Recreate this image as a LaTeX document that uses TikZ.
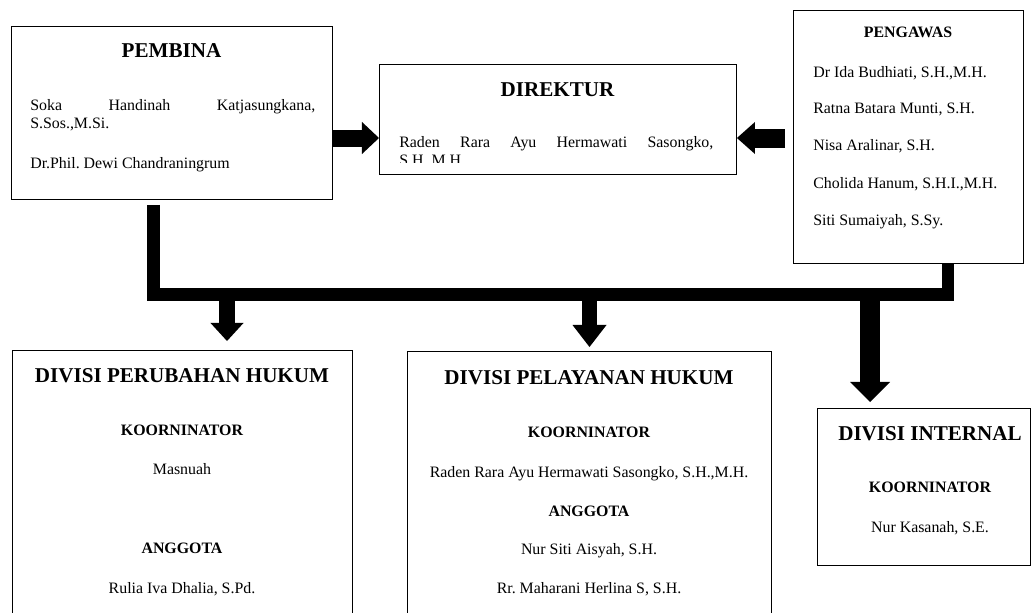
\documentclass[tikz,border=0pt]{standalone}
\usepackage{fontspec}
\setmainfont{Liberation Serif}
\usetikzlibrary{arrows.meta}
\frenchspacing

\begin{document}
\begin{tikzpicture}[x=0.025cm, y=-0.025cm,
    box/.style={rectangle, draw, line width=0.6pt, anchor=north west,
                inner sep=0pt},
    boxtitle/.style={font=\fontsize{15}{18}\selectfont\bfseries,
                     anchor=base, inner sep=0pt},
    rolehead/.style={font=\fontsize{11.3}{13}\selectfont\bfseries,
                     anchor=base, inner sep=0pt},
    person/.style={font=\fontsize{11.3}{12.8}\selectfont,
                   anchor=base, inner sep=0pt},
    fat/.style n args={3}{line width=#1,
                 -{Triangle[length=#2, width=#3, line width=0pt]}},
    bus/.style={line width=0.31cm, line join=miter}]
    \clip (0,0) rectangle (1033,612);

    % Pembina

    \node (pembina) [box, minimum width=8.025cm, minimum height=4.325cm]
          at (11,26) {};
    \node (pembinatitle) [boxtitle] at (171.5,57) {PEMBINA};
    \node (pembina1) [person, anchor=base west, text width=7.125cm,
                      align=justify]
          at (30,110) {Soka Handinah Katjasungkana,\linebreak S.Sos.,M.Si.};
    \node (pembina2) [person, anchor=base west] at (30,168)
          {Dr.Phil. Dewi Chandraningrum};

    % Direktur

    \node (direktur) [box, minimum width=8.925cm, minimum height=2.75cm]
          at (379,64) {};
    \node (direkturtitle) [boxtitle] at (557.5,96) {DIREKTUR};
    \begin{scope}
      \clip (380,65) rectangle (735,162);
      \node (direktur1) [person, anchor=base west, text width=7.85cm,
                         align=justify]
            at (399,147) {Raden Rara Ayu Hermawati Sasongko,\linebreak S.H.,M.H.};
    \end{scope}

    % Pengawas

    \node (pengawas) [box, minimum width=5.75cm, minimum height=6.325cm]
          at (793,10) {};
    \node (pengawastitle) [rolehead] at (908,37) {PENGAWAS};
    \node (pengawas1) [person, anchor=base west] at (813,77)
          {Dr Ida Budhiati, S.H.,M.H.};
    \node (pengawas2) [person, anchor=base west] at (813,113)
          {Ratna Batara Munti, S.H.};
    \node (pengawas3) [person, anchor=base west] at (813,150)
          {Nisa Aralinar, S.H.};
    \node (pengawas4) [person, anchor=base west] at (813,188)
          {Cholida Hanum, S.H.I.,M.H.};
    \node (pengawas5) [person, anchor=base west] at (813,225)
          {Siti Sumaiyah, S.Sy.};

    \coordinate (lvl) at (0,138);
    \draw[fat={0.425cm}{0.425cm}{0.8cm}]
         (pembina.east |- lvl) -- (direktur.west |- lvl);
    \draw[fat={0.475cm}{0.45cm}{0.8cm}, shorten <=0.2cm]
         (pengawas.west |- lvl) -- (direktur.east |- lvl);

    % Divisi Perubahan Hukum

    \node (divperubahan) [box, minimum width=8.5cm, minimum height=6.75cm]
          at (12,350) {};
    \node (perubahantitle) [boxtitle] at (182,382) {DIVISI PERUBAHAN HUKUM};
    \node (perubahankoor) [rolehead] at (182,435) {KOORNINATOR};
    \node (perubahan1) [person] at (182,474) {Masnuah};
    \node (perubahanang) [rolehead] at (182,553) {ANGGOTA};
    \node (perubahan2) [person] at (182,593) {Rulia Iva Dhalia, S.Pd.};

    % Divisi Pelayanan Hukum

    \node (divpelayanan) [box, minimum width=9.1cm, minimum height=6.725cm]
          at (407,351) {};
    \node (pelayanantitle) [boxtitle] at (589,384) {DIVISI PELAYANAN HUKUM};
    \node (pelayanankoor) [rolehead] at (589,437) {KOORNINATOR};
    \node (pelayanan1) [person] at (589,477)
          {Raden Rara Ayu Hermawati Sasongko, S.H.,M.H.};
    \node (pelayananang) [rolehead] at (589,516) {ANGGOTA};
    \node (pelayanan2) [person] at (589,554) {Nur Siti Aisyah, S.H.};
    \node (pelayanan3) [person] at (589,593) {Rr. Maharani Herlina S, S.H.};

    % Divisi Internal

    \node (divinternal) [box, minimum width=5.325cm, minimum height=3.925cm]
          at (817,408) {};
    \node (internaltitle) [boxtitle] at (930,440) {DIVISI INTERNAL};
    \node (internalkoor) [rolehead] at (930,492) {KOORNINATOR};
    \node (internal1) [person] at (930,532) {Nur Kasanah, S.E.};

    % Bus to the divisions

    \coordinate (busL) at (153.5,294.5);
    \coordinate (busR) at (948,294.5);
    \draw[bus, shorten <=0.125cm]
         (pembina.south -| busL) -- (busL) -- (busR) -- (pengawas.south -| busR);

    \coordinate (drop1) at (227,294.5);
    \coordinate (drop2) at (589.5,294.5);
    \coordinate (drop3) at (870,294.5);
    \draw[fat={0.4cm}{0.45cm}{0.825cm}, shorten >=0.225cm]
         (drop1) -- (divperubahan.north -| drop1);
    \draw[fat={0.375cm}{0.55cm}{0.85cm}, shorten >=0.1cm]
         (drop2) -- (divpelayanan.north -| drop2);
    \draw[fat={0.5cm}{0.5cm}{1cm}, shorten >=0.15cm]
         (drop3) -- (divinternal.north -| drop3);
\end{tikzpicture}
\end{document}
